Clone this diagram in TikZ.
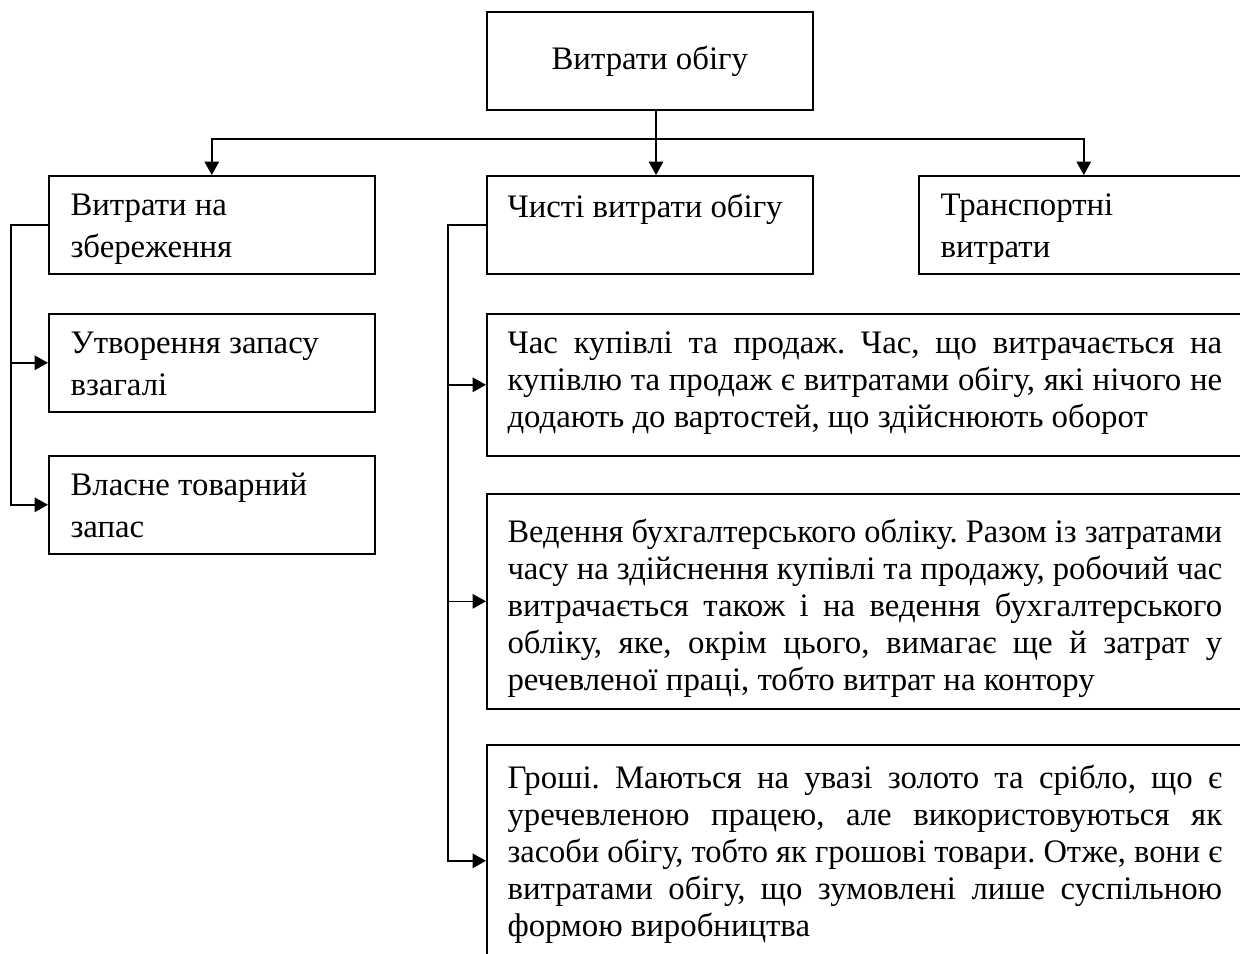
\documentclass[tikz,border=0pt]{standalone}
\usepackage{fontspec}
\setmainfont{Liberation Serif}
\usepackage{graphicx}
\usetikzlibrary{arrows.meta}

% one justified line of a long box, squeezed when it is too long
\newlength\jlw
\setlength\jlw{268pt}
\newlength\jtmp
\newcommand\jline[1]{\settowidth\jtmp{#1}\ifdim\jtmp>\jlw\resizebox{\jlw}{\height}{#1}\else\makebox[\jlw][s]{#1}\fi}
\newcommand\lline[1]{\settowidth\jtmp{#1}\ifdim\jtmp>\jlw\resizebox{\jlw}{\height}{#1}\else#1\fi}

\begin{document}
\begin{tikzpicture}[x=0.375pt, y=-0.375pt,
        box/.style={draw, line width=0.6pt, anchor=north west, inner sep=0pt,
            minimum width=122.25pt, minimum height=36.75pt},
        wide/.style={box, minimum width=286.5pt},
        small/.style={anchor=base west, inner sep=0pt, text width=115pt, align=justify,
            font=\frenchspacing\fontsize{12.3}{15.75}\selectfont},
        big/.style={anchor=base west, inner sep=0pt, text width=268pt, align=justify,
            font=\frenchspacing\fontsize{12.3}{13.875}\selectfont},
        link/.style={line width=0.6pt},
        arr/.style={line width=0.6pt, -{Triangle[length=5pt,width=5.4pt]}}]
        \useasboundingbox (0,0) rectangle (1240,953);
        \clip (0,0) rectangle (1240,953);

        % top box
        \node[box, font=\fontsize{12.3}{14}\selectfont] (costs) at (486,11) {Витрати обігу};

        % second row
        \node[box] (store) at (48,175) {};
        \node[box] (pure) at (486,175) {};
        \node[box, minimum width=123.75pt] (transp) at (918,175) {};

        % left column
        \node[box] (goods) at (48,313) {};
        \node[box] (stock) at (48,455) {};

        % right column
        \node[wide, minimum height=53.25pt] (trade) at (486,313) {};
        \node[wide, minimum height=80.625pt] (book) at (486,493) {};
        \node[wide, minimum height=87pt] (money) at (486,744) {};

        % short texts
        \node[small] (store-t) at (70,215) {Витрати на\\збереження};
        \node[small] (goods-t) at (70,353) {Утворення запасу\\взагалі};
        \node[small] (stock-t) at (70,495) {Власне товарний\\запас};
        \node[small] (pure-t) at (507,217) {Чисті витрати обігу};
        \node[small] (transp-t) at (940,215) {Транспортні\\витрати};

        % long texts
        \node[big] (trade-t) at (507,353) {%
            \jline{Час купівлі та продаж. Час, що витрачається на}\\
            \jline{купівлю та продаж є витратами обігу, які нічого не}\\
            \lline{додають до вартостей, що здійснюють оборот}};
        \node[big] (book-t) at (507,542) {%
            \jline{Ведення бухгалтерського обліку. Разом із затратами}\\
            \jline{часу на здійснення купівлі та продажу, робочий час}\\
            \jline{витрачається також і на ведення бухгалтерського}\\
            \jline{обліку, яке, окрім цього, вимагає ще й затрат у}\\
            \lline{речевленої праці, тобто витрат на контору}};
        \node[big] (money-t) at (507,788) {%
            \jline{Гроші. Маються на увазі золото та срібло, що є}\\
            \jline{уречевленою працею, але використовуються як}\\
            \jline{засоби обігу, тобто як грошові товари. Отже, вони є}\\
            \jline{витратами обігу, що зумовлені лише суспільною}\\
            \lline{формою виробництва}};

        % top connectors
        \coordinate (bus) at (656,139);
        \draw[link] (costs.south -| bus) -- (bus);
        \draw[arr] (bus) -- (bus |- pure.north);
        \draw[arr] (bus) -| (store.north);
        \draw[arr] (bus) -| (transp.north);

        % left connectors
        \coordinate (lbus) at (11,0);
        \draw[arr] (store.west) -- (lbus |- store.west) |- (stock.west);
        \draw[arr] (lbus |- goods.west) -- (goods.west);

        % right connectors
        \coordinate (mbus) at (448,0);
        \draw[arr] (pure.west) -- (mbus |- pure.west) |- (money.west);
        \draw[arr] (mbus |- trade.west) -- (trade.west);
        \draw[arr] (mbus |- book.west) -- (book.west);
    \end{tikzpicture}
\end{document}
